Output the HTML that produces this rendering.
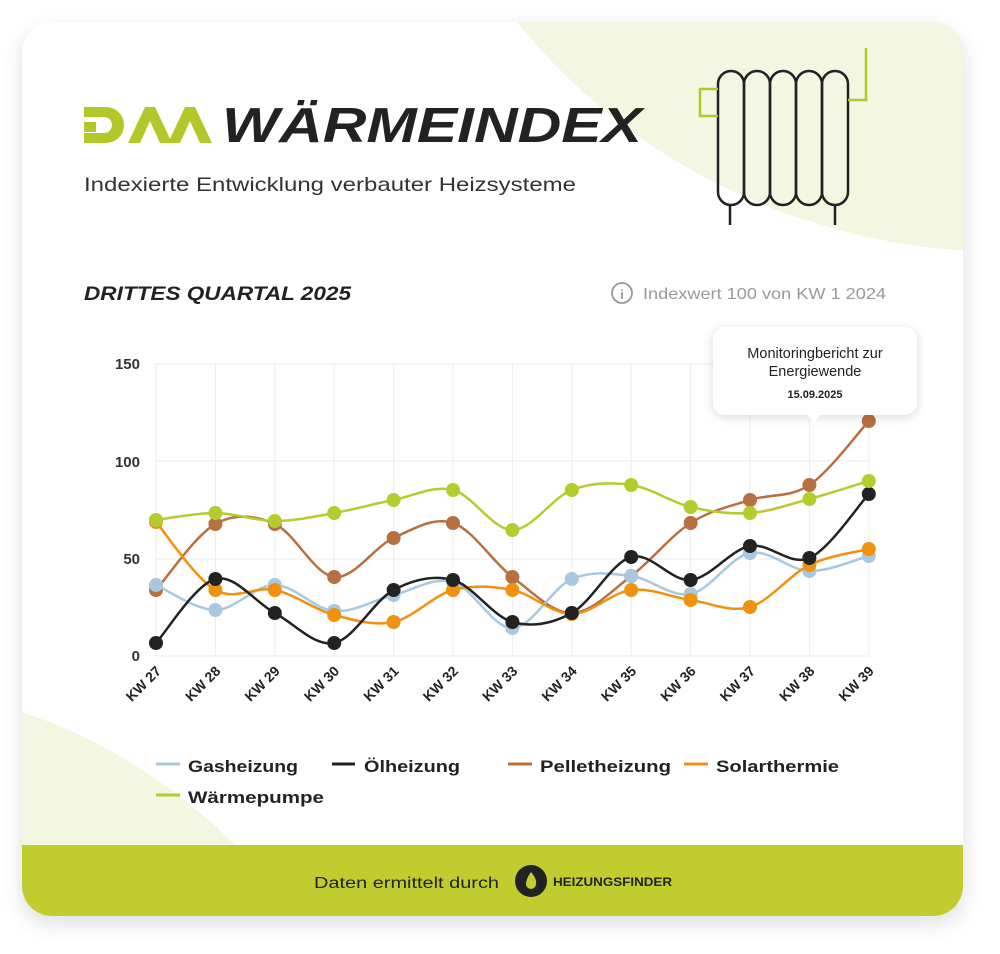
<!DOCTYPE html>
<html><head><meta charset="utf-8"><style>
html,body{margin:0;padding:0;background:#fff;}
body{width:1000px;height:954px;position:relative;overflow:hidden;font-family:"Liberation Sans",sans-serif;}
.card{position:absolute;left:22px;top:22px;width:941px;height:894px;border-radius:30px;background:#fff;box-shadow:0 8px 22px rgba(0,0,0,0.13);overflow:hidden;}
.foot{position:absolute;left:0;bottom:0;width:100%;height:71px;background:#c1cc2f;}
</style></head><body>
<div class="card">
<svg width="941" height="894" style="position:absolute;left:0;top:0">
<path d="M495,0 Q600,130 760,190 Q860,225 941,228 L941,0 Z" fill="#f1f5dc" opacity="0.85"/>
<path d="M0,690 Q120,730 215,825 L0,825 Z" fill="#f1f5dc" opacity="0.85"/>
</svg>
<div class="foot"></div>
</div>
<svg width="1000" height="954" style="position:absolute;left:0;top:0" id="s">
<g fill="#b3c72a">
<path d="M84,107 h22 a18,18 0 0 1 0,36 h-22 v-10 h20 a8,8 0 0 0 0,-16 h-20z"/>
<path d="M84,122 h12 v10 h-12z"/>
<path d="M128,143 l17,-36 h10 l17,36 h-12 l-10,-22 l-10,22z"/>
<path d="M168,143 l17,-36 h10 l17,36 h-12 l-10,-22 l-10,22z"/>
</g>
<text x="222" y="142" font-family="Liberation Sans" font-weight="bold" font-style="italic" font-size="49" fill="#222" textLength="420" lengthAdjust="spacingAndGlyphs">WÄRMEINDEX</text>
<text x="84" y="191" font-size="19.5" fill="#333" textLength="492" lengthAdjust="spacingAndGlyphs">Indexierte Entwicklung verbauter Heizsysteme</text>
<g fill="none" stroke="#222" stroke-width="2.5">
<rect x="718" y="71" width="26" height="134" rx="13"/>
<rect x="744" y="71" width="26" height="134" rx="13"/>
<rect x="770" y="71" width="26" height="134" rx="13"/>
<rect x="796" y="71" width="26" height="134" rx="13"/>
<rect x="822" y="71" width="26" height="134" rx="13"/>
<line x1="730" y1="205" x2="730" y2="225"/><line x1="835" y1="205" x2="835" y2="225"/>
</g>
<g fill="none" stroke="#b3c72a" stroke-width="2.5">
<path d="M718,89 H700 V116 H718"/><path d="M848,100 H866 V48"/>
</g>
<text x="84" y="300" font-weight="bold" font-style="italic" font-size="19" fill="#222" textLength="267" lengthAdjust="spacingAndGlyphs">DRITTES QUARTAL 2025</text>
<circle cx="622" cy="293" r="10" fill="none" stroke="#999" stroke-width="1.8"/>
<text x="622" y="299" font-size="13" fill="#999" text-anchor="middle" font-weight="bold">i</text>
<text x="643" y="299" font-size="16" fill="#999" textLength="243" lengthAdjust="spacingAndGlyphs">Indexwert 100 von KW 1 2024</text>
<g id="grid" stroke="#ececec" stroke-width="1"></g>
<g font-weight="bold" font-size="15" fill="#333" text-anchor="end">
<text x="140" y="369">150</text><text x="140" y="467">100</text><text x="140" y="564">50</text><text x="140" y="661">0</text>
</g>
<g id="xl" font-weight="bold" font-size="14" fill="#222" text-anchor="end"></g>
<g id="lines"></g>
<g>
<rect x="713" y="327" width="204" height="88" rx="12" fill="#fff" style="filter:drop-shadow(0 2px 5px rgba(0,0,0,0.15))"/>
<path d="M806,414 l8,9 l8,-9z" fill="#fff"/>
<text x="815" y="358" font-size="14.5" fill="#222" text-anchor="middle">Monitoringbericht zur</text>
<text x="815" y="376" font-size="14.5" fill="#222" text-anchor="middle">Energiewende</text>
<text x="815" y="398" font-size="11" font-weight="bold" fill="#222" text-anchor="middle">15.09.2025</text>
</g>
<g stroke-width="3">
<line x1="156" y1="764" x2="180" y2="764" stroke="#a7c8e0"/>
<line x1="332" y1="764" x2="355" y2="764" stroke="#222"/>
<line x1="508" y1="764" x2="532" y2="764" stroke="#b87040"/>
<line x1="684" y1="764" x2="708" y2="764" stroke="#f0920f"/>
<line x1="156" y1="795" x2="180" y2="795" stroke="#b5cc2e"/>
</g>
<g font-weight="bold" font-size="17" fill="#222">
<text x="188" y="772" textLength="110" lengthAdjust="spacingAndGlyphs">Gasheizung</text>
<text x="364" y="772" textLength="96" lengthAdjust="spacingAndGlyphs">Ölheizung</text>
<text x="540" y="772" textLength="131" lengthAdjust="spacingAndGlyphs">Pelletheizung</text>
<text x="716" y="772" textLength="123" lengthAdjust="spacingAndGlyphs">Solarthermie</text>
<text x="188" y="803" textLength="136" lengthAdjust="spacingAndGlyphs">Wärmepumpe</text>
</g>
<text x="314" y="888" font-size="15.5" fill="#222" textLength="185" lengthAdjust="spacingAndGlyphs">Daten ermittelt durch</text>
<circle cx="531" cy="881" r="16" fill="#222"/>
<path d="M531,872 q6,7 5,12 a5,5 0 0 1 -10,0 q0,-5 5,-12z" fill="#c1cc2f"/>
<text x="553" y="886" font-size="12" font-weight="bold" fill="#222" textLength="119" lengthAdjust="spacingAndGlyphs">HEIZUNGSFINDER</text>
</svg>
<script>
var ns="http://www.w3.org/2000/svg";
function el(t,a,p){var e=document.createElementNS(ns,t);for(var k in a)e.setAttribute(k,a[k]);p.appendChild(e);return e;}
var X=[];for(var i=0;i<13;i++)X.push(156+i*59.4);
var g=document.getElementById('grid');
[364,461,559,656].forEach(function(y){el('line',{x1:156,x2:869,y1:y,y2:y},g);});
X.forEach(function(x){el('line',{x1:x,x2:x,y1:364,y2:656},g);});
var xl=document.getElementById('xl');
X.forEach(function(x,i){var t=el('text',{x:x+6,y:672,transform:'rotate(-45 '+(x+6)+' 672)'},xl);t.textContent='KW '+(27+i);});
var S=[
["#b87040",[590,524,524,577,538,523,577,613,576,523,500,485,421]],
["#a7c8e0",[585,610,585,611,595,582,628,579,576,594,553,571,556]],
["#f0920f",[522,590,590,615,622,590,590,614,590,600,607,565,549]],
["#222",[643,579,613,643,590,580,622,613,557,580,546,558,494]],
["#b5cc2e",[520,513,521,513,500,490,530,490,485,507,513,499,481]]];
var L=document.getElementById('lines');
S.forEach(function(s){var Y=s[1],d='M'+X[0]+','+Y[0];
for(var i=0;i<12;i++){var x0=X[Math.max(i-1,0)],y0=Y[Math.max(i-1,0)],x1=X[i],y1=Y[i],x2=X[i+1],y2=Y[i+1],x3=X[Math.min(i+2,12)],y3=Y[Math.min(i+2,12)];
d+=' C'+(x1+(x2-x0)/6)+','+(y1+(y2-y0)/6)+' '+(x2-(x3-x1)/6)+','+(y2-(y3-y1)/6)+' '+x2+','+y2;}
el('path',{d:d,fill:'none',stroke:s[0],'stroke-width':2.5},L);
Y.forEach(function(y,i){el('circle',{cx:X[i],cy:y,r:7,fill:s[0]},L);});});
</script>
</body></html>
